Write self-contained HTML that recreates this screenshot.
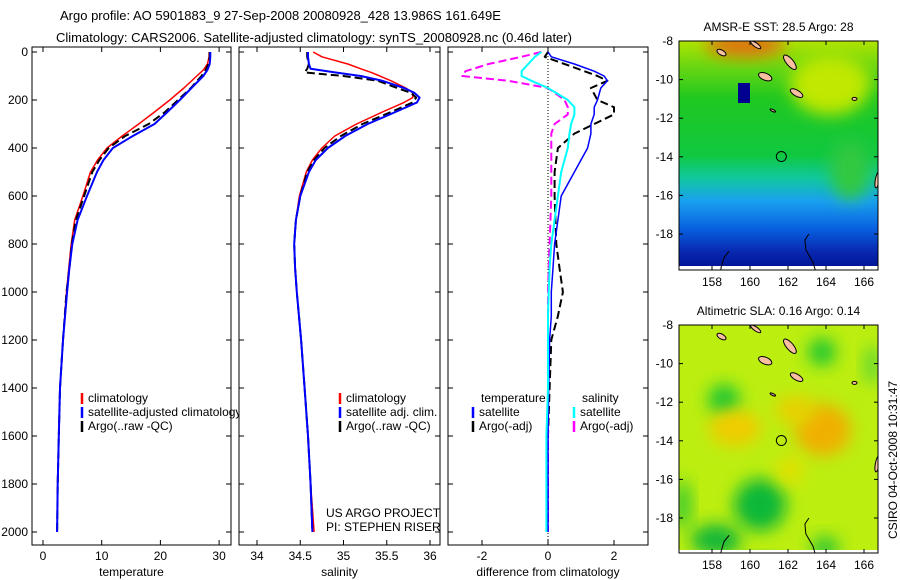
<!DOCTYPE html>
<html><head><meta charset="utf-8"><style>
body{margin:0;background:#fff;}
svg{display:block;font-family:"Liberation Sans",sans-serif;}
text{font-size:12px;fill:#000;}
</style></head><body>
<svg id="fig" width="900" height="580" viewBox="0 0 900 580" xmlns="http://www.w3.org/2000/svg">
<defs>
<linearGradient id="sstg" x1="0" y1="0" x2="0" y2="1">
<stop offset="0" stop-color="#b0e400"/><stop offset="0.1" stop-color="#70d810"/><stop offset="0.25" stop-color="#20c820"/><stop offset="0.5" stop-color="#10c840"/><stop offset="0.6" stop-color="#10c8a0"/><stop offset="0.7" stop-color="#1aa0f0"/><stop offset="0.82" stop-color="#0860e0"/><stop offset="0.92" stop-color="#0828b0"/><stop offset="1" stop-color="#001090"/>
</linearGradient>
<filter id="bl" x="-50%" y="-50%" width="200%" height="200%"><feGaussianBlur stdDeviation="8"/></filter>
<clipPath id="c1"><rect x="679" y="41" width="199" height="229"/></clipPath>
<clipPath id="c2"><rect x="679" y="325" width="199" height="228"/></clipPath>
</defs>
<text x="60" y="20" style="font-size:13px">Argo profile: AO 5901883_9 27-Sep-2008 20080928_428 13.986S 161.649E</text>
<text x="56" y="42" style="font-size:13px">Climatology: CARS2006. Satellite-adjusted climatology: synTS_20080928.nc (0.46d later)</text>
<g id="panels"></g>
<text x="326" y="517">US ARGO PROJECT</text>
<text x="326" y="531">PI: STEPHEN RISER</text>
<text transform="translate(897,460) rotate(-90)" text-anchor="middle">CSIRO 04-Oct-2008 10:31:47</text>
</svg>
<script>
// ---- data ----
const depthsT = [0,20,50,75,100,150,200,250,300,350,400,450,500,600,700,800,900,1000,1200,1400,1600,1800,2000];
const tempClim = [28.3,28.3,28.0,27.3,26.2,24.0,21.6,19.0,16.3,13.5,10.9,9.3,8.1,6.8,5.4,4.8,4.4,4.0,3.4,2.9,2.7,2.5,2.4];
const tempSat  = [28.5,28.5,28.4,28.0,27.3,25.3,23.3,21.2,19.0,15.3,11.9,10.3,9.2,7.5,5.9,5.0,4.5,4.1,3.4,2.9,2.7,2.5,2.4];
const tempArgo = [28.4,28.4,28.2,27.7,27.0,25.2,23.0,20.8,18.0,14.0,11.2,9.6,8.4,7.0,5.6,4.9,4.5,4.0,3.4,2.9,2.7,2.5,2.4];
const depthsS = [0,20,50,70,85,100,120,150,170,190,210,250,300,350,400,450,500,600,700,800,900,1000,1200,1400,1600,1800,2000];
const salSat  = [34.59,34.59,34.6,34.62,34.9,35.2,35.45,35.7,35.82,35.88,35.85,35.6,35.28,35.02,34.82,34.68,34.6,34.5,34.45,34.43,34.44,34.46,34.51,34.55,34.59,34.62,34.64];
const salArgo = [34.58,34.58,34.6,34.58,34.55,35.0,35.4,35.62,35.78,35.84,35.8,35.55,35.22,34.97,34.78,34.66,34.58,34.5,34.45,34.43,34.44,34.46,34.51,34.55,34.59,34.62,34.64];
const salClim = [34.65,34.75,35.05,35.2,35.32,35.42,35.55,35.72,35.8,35.8,35.7,35.45,35.15,34.9,34.75,34.64,34.57,34.49,34.45,34.43,34.44,34.46,34.51,34.55,34.59,34.62,34.66];
const depthsD = [0,20,50,80,100,120,150,200,230,260,300,340,400,500,600,800,900,1000,1100,1200,1400,1600,2000];
const dTempSat  = [0.0,0.1,0.8,1.4,1.7,1.8,1.6,1.5,1.4,1.4,1.3,1.3,1.2,0.8,0.4,0.2,0.15,0.1,0.1,0.05,0.02,0.0,0.0];
const dTempArgo = [0.0,-0.1,0.5,1.1,1.5,1.8,1.3,1.5,2.0,2.0,1.4,0.8,0.3,0.2,0.2,0.25,0.35,0.45,0.3,0.1,0.05,0.0,0.0];
const dSalSat   = [-0.2,-0.4,-0.6,-0.8,-0.8,-0.5,0.0,0.6,0.8,0.8,0.7,0.65,0.6,0.4,0.3,0.1,0.05,0.02,0.0,0.0,0.0,-0.05,-0.05];
const dSalArgo  = [-0.2,-0.8,-1.8,-2.5,-2.6,-1.2,0.0,0.5,0.6,0.6,0.2,0.1,0.1,0.1,0.1,0.05,0.02,0.0,0.0,0.0,0.0,0.0,0.0];
const depthTicks = [0,200,400,600,800,1000,1200,1400,1600,1800,2000];
const tempTicks = [0,10,20,30];
const salTicks = [34,34.5,35,35.5,36];
const diffTicks = [-2,0,2];
const lonTicks = [158,160,162,164,166];
const latTicks = [-8,-10,-12,-14,-16,-18];
const argoLon = 161.649, argoLat = -13.986;

const NS='http://www.w3.org/2000/svg';
const svg=document.getElementById('fig');
const g=document.getElementById('panels');
function el(t,a,p){const e=document.createElementNS(NS,t);for(const k in a)e.setAttribute(k,a[k]);(p||g).appendChild(e);return e;}
const yD = d => 52 + d*0.24;
const PT={x0:32,x1:231,f:v=>43+5.87*v};
const PS={x0:239,x1:440,f:v=>257+86.5*(v-34)};
const PD={x0:448,x1:648,f:v=>548+33*v};
const TOP=47,BOT=545;

function panel(P,name,ticks,xlabel,showY){
  const r=el('rect',{x:P.x0,y:TOP,width:P.x1-P.x0,height:BOT-TOP,fill:'#fff',stroke:'none'});
  
  
  return ()=>{
    el('rect',{x:P.x0,y:TOP,width:P.x1-P.x0,height:BOT-TOP,fill:'none',stroke:'#000','stroke-width':1});
    ticks.forEach(v=>{const x=P.f(v);
      el('line',{x1:x,x2:x,y1:BOT,y2:BOT-5,stroke:'#000'});el('line',{x1:x,x2:x,y1:TOP,y2:TOP+5,stroke:'#000'});
      const t=el('text',{x:x,y:BOT+15,'text-anchor':'middle'});t.textContent=String(v);
      
      });
    depthTicks.forEach(d=>{const y=yD(d);
      el('line',{x1:P.x0,x2:P.x0+5,y1:y,y2:y,stroke:'#000'});el('line',{x1:P.x1,x2:P.x1-5,y1:y,y2:y,stroke:'#000'});
      if(showY){const t=el('text',{x:P.x0-4,y:y+4,'text-anchor':'end'});t.textContent=String(d);
      
      }});
    const xl=el('text',{x:(P.x0+P.x1)/2,y:576,'text-anchor':'middle'});xl.textContent=xlabel;
    
    
  };
}
function line(P,ds,vs,col,w,dash,name){
  const pts=ds.map((d,i)=>P.f(vs[i]).toFixed(1)+','+yD(d).toFixed(1)).join(' ');
  const a={points:pts,fill:'none',stroke:col,'stroke-width':w,'stroke-linejoin':'round'};
  if(dash)a['stroke-dasharray']=dash;
  const p=el('polyline',a);
  
  
}
function legend(x,y,items){
  items.forEach((it,i)=>{const yy=y+i*14;
    el('line',{x1:x,x2:x,y1:yy-9,y2:yy+2,stroke:it[1],'stroke-width':2.5});
    const t=el('text',{x:x+6,y:yy});t.textContent=it[0];
    
    });
}
// panel 1
let fin1=panel(PT,'temperature',tempTicks,'temperature',true);
line(PT,depthsT,tempClim,'#f00',1.5,null,'temp-climatology-line');
line(PT,depthsT,tempArgo,'#000',2,'8,4','temp-argo-line');
line(PT,depthsT,tempSat,'#00f',2,null,'temp-satellite-line');
legend(82,402,[['climatology','#f00'],['satellite-adjusted climatology','#00f'],['Argo(..raw -QC)','#000']]);
fin1();
// panel 2
let fin2=panel(PS,'salinity',salTicks,'salinity',false);
line(PS,depthsS,salClim,'#f00',1.5,null,'sal-climatology-line');
line(PS,depthsS,salArgo,'#000',2,'8,4','sal-argo-line');
line(PS,depthsS,salSat,'#00f',2,null,'sal-satellite-line');
legend(340,402,[['climatology','#f00'],['satellite adj. clim.','#00f'],['Argo(..raw -QC)','#000']]);
fin2();
// panel 3
let fin3=panel(PD,'difference',diffTicks,'difference from climatology',false);
el('line',{x1:PD.f(0),x2:PD.f(0),y1:TOP,y2:BOT,stroke:'#000','stroke-dasharray':'1,2'});
line(PD,depthsD,dTempArgo,'#000',2,'8,4','diff-temp-argo-line');
line(PD,depthsD,dSalArgo,'#f0f',2,'8,4','diff-sal-argo-line');
line(PD,depthsD,dTempSat,'#00f',1.5,null,'diff-temp-satellite-line');
line(PD,depthsD,dSalSat,'#0ff',2,null,'diff-sal-satellite-line');
const lt=el('text',{x:481,y:402});lt.textContent='temperature';


const ls=el('text',{x:582,y:402});ls.textContent='salinity';


legend(473,416,[['satellite','#00f'],['Argo(-adj)','#000']]);
legend(574,416,[['satellite','#0ff'],['Argo(-adj)','#f0f']]);
fin3();

// maps
function map(x0,y0,w,h,latTop,pxDeg,title,name,clip,bgFn){
  const lx=v=>712+(v-158)*19, ly=v=>y0+(latTop-v)*pxDeg;
  const tt=el('text',{x:x0+w/2,y:y0-10,'text-anchor':'middle'},svg);tt.textContent=title;
  
  
  const gg=el('g',{'clip-path':'url(#'+clip+')'},svg);
  
  
  bgFn(gg,x0,y0,w,h);
  // islands (NW-SE oriented)
  [[162.1,-9.1,9,3.5,50],[160.8,-9.85,7,3.5,22],[162.45,-10.7,7,3,30],[158.5,-8.6,5,2.5,30],[160.3,-8.2,6,2,35],[166.7,-15.2,2,8,10],[161.2,-11.6,3,1,25],[165.5,-11.0,2.5,1.5,0]].forEach(a=>{
    el('ellipse',{cx:lx(a[0]),cy:ly(a[1]),rx:a[2],ry:a[3],transform:`rotate(${a[4]} ${lx(a[0])} ${ly(a[1])})`,fill:'#f8c0a0',stroke:'#000','stroke-width':1},gg);});
  el('path',{d:`M${lx(158.9)},${ly(-18.9)} l-5,6 l-3,10 l-1,10 M${lx(163.1)},${ly(-18)} l-4,6 l1,10 l7,12 l3,10`,fill:'none',stroke:'#000','stroke-width':1},gg);
  el('rect',{x:x0,y:y0,width:w,height:h,fill:'none',stroke:'#000'},svg);
  const c=el('circle',{cx:lx(argoLon),cy:ly(argoLat),r:5,fill:'none',stroke:'#000'},svg);
  
  
  lonTicks.forEach(v=>{const x=lx(v);el('line',{x1:x,x2:x,y1:y0+h,y2:y0+h-4,stroke:'#000'},svg);el('line',{x1:x,x2:x,y1:y0,y2:y0+4,stroke:'#000'},svg);
    const t=el('text',{x:x,y:y0+h+16,'text-anchor':'middle'},svg);t.textContent=v;
    
    });
  latTicks.forEach(v=>{const y=ly(v);el('line',{x1:x0+w,x2:x0+w-4,y1:y,y2:y,stroke:'#000'},svg);el('line',{x1:x0,x2:x0+4,y1:y,y2:y,stroke:'#000'},svg);
    const t=el('text',{x:x0-6,y:y+4,'text-anchor':'end'},svg);t.textContent=v;
    
    });
}
map(679,41,199,229,-8,19.3,'AMSR-E SST: 28.5  Argo: 28','sst-map','c1',(gg,x,y,w,h)=>{
  el('rect',{x:x,y:y,width:w,height:h,fill:'url(#sstg)'},gg);
  el('ellipse',{cx:745,cy:45,rx:40,ry:12,fill:'#e07010',filter:'url(#bl)'},gg);
  el('ellipse',{cx:830,cy:85,rx:40,ry:30,fill:'#c0e800',filter:'url(#bl)'},gg);
  el('ellipse',{cx:850,cy:170,rx:20,ry:30,fill:'#30c840',filter:'url(#bl)'},gg);
  el('rect',{x:738,y:83,width:12,height:20,fill:'#000090'},gg);
  el('rect',{x:679,y:266,width:199,height:4,fill:'#fff'},gg);
});
map(679,325,199,228,-8,19.3,'Altimetric SLA: 0.16  Argo: 0.14','sla-map','c2',(gg,x,y,w,h)=>{
  el('rect',{x:x,y:y,width:w,height:h,fill:'#bcee10'},gg);
  [[724,400,16,16,'#20c830'],[822,352,14,14,'#20c830'],[760,505,26,26,'#10b838'],[716,540,25,16,'#18b838'],[683,505,8,25,'#30c830'],[825,548,14,12,'#30c830'],[762,568,20,10,'#30c830'],[872,365,8,20,'#60d830']].forEach(b=>el('ellipse',{cx:b[0],cy:b[1],rx:b[2],ry:b[3],fill:b[4],filter:'url(#bl)'},gg));
  [[735,428,26,18,'#f0cc00'],[823,430,28,26,'#f0b000'],[795,410,20,14,'#e8d000'],[790,470,14,14,'#e0e000']].forEach(b=>el('ellipse',{cx:b[0],cy:b[1],rx:b[2],ry:b[3],fill:b[4],filter:'url(#bl)'},gg));
  el('rect',{x:679,y:550,width:199,height:3,fill:'#fff'},gg);
});
</script>
</body></html>
